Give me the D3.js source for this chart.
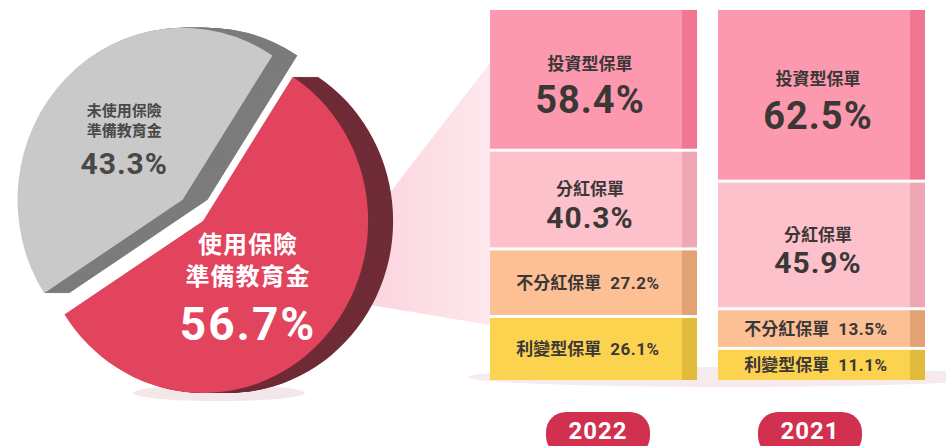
<!DOCTYPE html>
<html>
<head>
<meta charset="utf-8">
<script src="https://cdn.jsdelivr.net/npm/d3@7/dist/d3.min.js"></script>
<style>
  html, body { margin: 0; padding: 0; background: #ffffff; }
  svg { display: block; }
</style>
</head>
<body>
<script>
// ---------------- data ----------------
const pieCategories = ["使用保險準備教育金", "未使用保險準備教育金"];
const pieLabelLines = [["使用保險", "準備教育金"], ["未使用保險", "準備教育金"]];
const pieValues = [56.7, 43.3];

const years = ["2022", "2021"];
const policyTypes = ["投資型保單", "分紅保單", "不分紅保單", "利變型保單"];
const values2022 = [58.4, 40.3, 27.2, 26.1];
const values2021 = [62.5, 45.9, 13.5, 11.1];
const yearValues = [values2022, values2021];

// ---------------- styles ----------------
const W = 946, H = 446;
const CJK = "'Noto Sans CJK TC', 'Noto Sans CJK SC', sans-serif";
const NUM = "Roboto, 'Noto Sans CJK TC', sans-serif";
const textDark = "#3b3737";
const segFront = ["#fc99ae", "#fdc1cc", "#fdbf94", "#fbd34f"];
const segSide  = ["#f07692", "#eea7b3", "#e2a274", "#e1bb3c"];
const pieFace = ["#e2435d", "#c9c9c9"];
const pieDark = ["#6f2c37", "#7c7c7c"];

const svg = d3.select("body").append("svg").attr("width", W).attr("height", H);
const defs = svg.append("defs");
const grad = defs.append("linearGradient").attr("id", "conn").attr("x1", "0%").attr("x2", "100%");
grad.append("stop").attr("offset", "0%").attr("stop-color", "#fccbd6");
grad.append("stop").attr("offset", "100%").attr("stop-color", "#fde8ed");

// ---------------- bar scales ----------------
const barTop = 10, barBottom = 380, gap = 3;
const x = d3.scaleBand().domain(years).range([490, 925]).paddingInner(0.092).paddingOuter(0);
const pillX = d3.scalePoint().domain(years).range([598, 810]);
const sideW = 15;

// connector (zoom wedge) from pie to first bar
const cx = 203, cy = 221, R = 172, sx = 0.96;
svg.append("polygon")
  .attr("points", [[x(years[0]), 63], [311, 295], [x(years[0]), 325]].map(p => p.join(",")).join(" "))
  .attr("fill", "url(#conn)");

// floor shadows
svg.append("ellipse").attr("cx", 730).attr("cy", 377).attr("rx", 262).attr("ry", 10).attr("fill", "#f6eaed");
svg.append("ellipse").attr("cx", 219).attr("cy", 393).attr("rx", 86).attr("ry", 8).attr("fill", "#f4e7ea");

// ---------------- pie ----------------
const total = d3.sum(pieValues);
const grayFrac = pieValues[1] / total;
const start = -Math.PI / 4 + Math.PI * grayFrac;   // gray slice centred on the upper-left diagonal
const pie = d3.pie().sort(null).value(d => d).startAngle(start).endAngle(start + 2 * Math.PI);
const arcs = pie(pieValues);
const arc = d3.arc().innerRadius(0).outerRadius(R);

const explode = 30;
const depth = 25;
[1, 0].forEach(i => {
  const a = arcs[i];
  const mid = (a.startAngle + a.endAngle) / 2;
  const off = i === 1 ? explode : 0;
  const ox = cx + Math.sin(mid) * off * sx;
  const oy = cy - Math.cos(mid) * off;
  const g = svg.append("g");
  for (let d = depth; d >= 1; d--) {
    g.append("path").attr("d", arc(a))
      .attr("transform", `translate(${ox + d},${oy}) scale(${sx},1)`)
      .attr("fill", pieDark[i]);
  }
  g.append("path").attr("d", arc(a))
    .attr("transform", `translate(${ox},${oy}) scale(${sx},1)`)
    .attr("fill", pieFace[i]);
  a.ox = ox; a.oy = oy; a.mid = mid;
});

// pie labels
(function () {
  const a = arcs[0];
  const lx = a.ox + Math.sin(a.mid) * R * 0.42 * sx - 4;
  const ly = a.oy - Math.cos(a.mid) * R * 0.42;
  const t = svg.append("g").attr("fill", "#ffffff").attr("text-anchor", "middle");
  const nm = t.append("text").attr("font-family", CJK).attr("font-weight", 700)
    .attr("font-size", 24).attr("letter-spacing", 1);
  nm.append("tspan").attr("x", lx).attr("y", ly - 19).text(pieLabelLines[0][0]);
  nm.append("tspan").attr("x", lx).attr("dy", 32).text(pieLabelLines[0][1]);
  t.append("text").attr("x", lx).attr("y", ly + 68).attr("font-family", NUM).attr("font-weight", 700)
    .attr("font-size", 46).attr("letter-spacing", 2).text(pieValues[0] + "%");

  const b = arcs[1];
  const gx = b.ox + Math.sin(b.mid) * R * 0.5 * sx;
  const gy = b.oy - Math.cos(b.mid) * R * 0.5;
  const s = svg.append("g").attr("fill", "#4a4747").attr("text-anchor", "middle");
  const gn = s.append("text").attr("font-family", CJK).attr("font-weight", 700).attr("font-size", 15);
  gn.append("tspan").attr("x", gx).attr("y", gy - 23).text(pieLabelLines[1][0]);
  gn.append("tspan").attr("x", gx).attr("dy", 20).text(pieLabelLines[1][1]);
  s.append("text").attr("x", gx).attr("y", gy + 35).attr("font-family", NUM).attr("font-weight", 700)
    .attr("font-size", 30).attr("letter-spacing", 1).text(pieValues[1] + "%");
})();

// ---------------- stacked bars ----------------
years.forEach((yr, yi) => {
  const vals = yearValues[yi];
  const avail = (barBottom - barTop) - gap * (vals.length - 1);
  const h = d3.scaleLinear().domain([0, d3.sum(vals)]).range([0, avail]);
  const x0 = x(yr), bw = x.bandwidth();
  const frontW = bw - sideW;
  let y = barTop;
  const g = svg.append("g");
  vals.forEach((v, i) => {
    const hh = h(v);
    g.append("rect").attr("x", x0).attr("y", y).attr("width", frontW).attr("height", hh).attr("fill", segFront[i]);
    g.append("rect").attr("x", x0 + frontW).attr("y", y).attr("width", sideW).attr("height", hh).attr("fill", segSide[i]);
    const c = y + hh / 2;
    const tx = x0 + frontW / 2 + 4;
    if (i < 2) {
      const F = i === 0 ? 38 : 30;
      const d = F * 1.3;
      g.append("text").attr("x", tx).attr("y", c + 9 - d / 2).attr("dy", "0.36em")
        .attr("text-anchor", "middle").attr("font-family", CJK).attr("font-weight", 700)
        .attr("font-size", 17).attr("fill", textDark).text(policyTypes[i]);
      g.append("text").attr("x", tx).attr("y", c + 9 + d / 2)
        .attr("text-anchor", "middle").attr("font-family", NUM).attr("font-weight", 700)
        .attr("font-size", F).attr("letter-spacing", 1).attr("fill", textDark).text(v + "%");
    } else {
      const t = g.append("text").attr("x", tx - 2).attr("y", c).attr("dy", "0.36em")
        .attr("text-anchor", "middle").attr("font-size", 17).attr("font-weight", 700).attr("fill", textDark);
      t.append("tspan").attr("font-family", CJK).text(policyTypes[i]);
      t.append("tspan").attr("font-family", NUM).attr("dx", 9).attr("letter-spacing", 0.5).text(v + "%");
    }
    y += hh + gap;
  });

  // year pill
  const pc = pillX(yr);
  svg.append("rect").attr("x", pc - 52).attr("y", 412).attr("width", 104).attr("height", 44)
    .attr("rx", 20).attr("fill", "#d1304f");
  svg.append("text").attr("x", pc).attr("y", 439).attr("text-anchor", "middle")
    .attr("font-family", NUM).attr("font-weight", 700).attr("font-size", 24)
    .attr("letter-spacing", 1).attr("fill", "#ffffff").text(yr);
});
</script>
</body>
</html>
